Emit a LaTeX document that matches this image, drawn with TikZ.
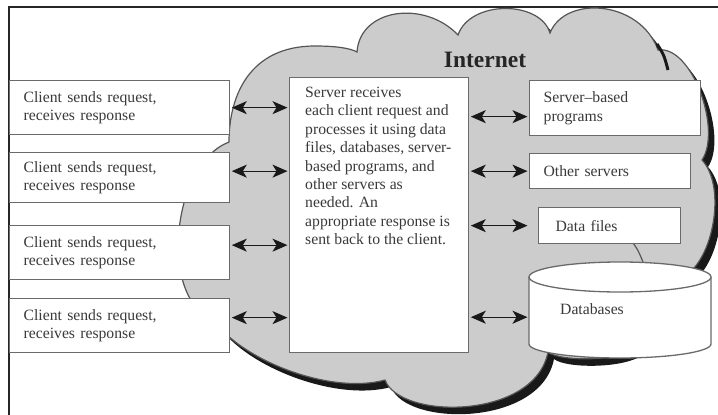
\documentclass[tikz,border=0pt]{standalone}
\usepackage{fontspec}
\setmainfont{Liberation Serif}
\usetikzlibrary{arrows.meta}
\definecolor{cloudgray}{HTML}{CCCCCC}
\definecolor{outlinegray}{HTML}{555555}
\definecolor{boxgray}{HTML}{6A6A6A}
\definecolor{textgray}{HTML}{3A3A3A}
\def\cloudoutline{(229,142) .. controls (229,95) and (250,46) .. (315,46)
  .. controls (335,46) and (350,48) .. (357,52)
  .. controls (360,8) and (425,0) .. (458,35)
  .. controls (470,0) and (540,0) .. (550,33)
  .. controls (565,-5) and (640,0) .. (658,50)
  .. controls (692,45) and (722,130) .. (702,160)
  .. controls (725,185) and (715,250) .. (690,272)
  -- (640,345)
  .. controls (625,362) and (560,362) .. (548,352)
  .. controls (535,420) and (400,420) .. (385,380)
  .. controls (330,395) and (240,360) .. (212,318)
  .. controls (160,300) and (170,165) .. (229,142) -- cycle}
\begin{document}
\begin{tikzpicture}[x=1pt,y=-1pt,
  box/.style={draw=boxgray, line width=1.3pt, fill=white, inner sep=0pt, anchor=north west},
  txt/.style={font=\fontsize{15.7}{18.4}\selectfont, text=textgray, align=left},
  clientbox/.style={box, txt, minimum width=220pt, minimum height=54pt, text width=192pt, inner xsep=14pt},
  link/.style={{Stealth[length=15pt,width=13pt,inset=4pt]}-{Stealth[length=15pt,width=13pt,inset=4pt]}, line width=1.1pt, black!90, shorten <=1.5pt, shorten >=1.5pt}]
\useasboundingbox (0,0) rectangle (718,415);
\fill[white] (0,0) rectangle (718,415);
% frame
\draw[line width=1.6pt, black!85] (9,415) -- (9,7) -- (718,7);
% cloud
\fill[black!90] [shift={(6,7)}] \cloudoutline;
\path[fill=cloudgray, draw=outlinegray, line width=1.2pt] \cloudoutline;
\draw[outlinegray, line width=1.2pt] (633,243) .. controls (638,250) .. (643,262);
\draw[black!90, line width=3pt] (657,44) .. controls (664,55) .. (668,70);
% title
\node[font=\fontsize{23.5}{28}\selectfont\bfseries, text=black!85] (inet) at (485,60) {Internet};
% clients
\node[clientbox] (c1) at (9,80) {Client sends request,\\receives response};
\node[clientbox, minimum height=50pt] (c2) at (9,152) {Client sends request,\\receives response};
\node[clientbox] (c3) at (9,225) {Client sends request,\\receives response};
\node[clientbox] (c4) at (9,298) {Client sends request,\\receives response};
% server
\node[box, minimum width=179pt, minimum height=275pt] (srv) at (289,77) {};
\node[txt, anchor=north west, inner sep=0pt] (srvt) at (305,87) {Server receives\\each client request and\\processes it using data\\files, databases, server-\\based programs, and\\other servers as\\needed. An\\appropriate response is\\sent back to the client.};
% right side
\node[box, txt, minimum width=171pt, minimum height=55pt, text width=143pt, inner xsep=14pt] (sbp) at (529,80) {Server--based\\programs};
\node[box, txt, minimum width=161pt, minimum height=35pt, text width=133pt, inner xsep=14pt] (os) at (529,153) {Other servers};
\node[box, txt, minimum width=142pt, minimum height=36pt, text width=108pt, inner xsep=17pt] (df) at (538,207) {Data files};
% database cylinder
\path[fill=white, draw=boxgray, line width=1.3pt] (529,277) -- (529,344) arc[start angle=180, end angle=360, x radius=91pt, y radius=14pt] -- (711,277);
\draw[fill=white, draw=boxgray, line width=1.3pt] (620,277) ellipse[x radius=91pt, y radius=15pt];
\node[minimum width=182pt, minimum height=96pt, inner sep=0pt, anchor=north west] (db) at (529,262) {};
\node[txt] (dbl) at (592,309) {Databases};
% connectors
\draw[link] (c1.east) -- (c1.east -| srv.west);
\draw[link] ([yshift=6.5pt]c2.east) -- ([yshift=6.5pt]c2.east -| srv.west);
\draw[link] ([yshift=7.5pt]c3.east) -- ([yshift=7.5pt]c3.east -| srv.west);
\draw[link] ([yshift=8pt]c4.east) -- ([yshift=8pt]c4.east -| srv.west);
\draw[link] ([yshift=-8.5pt]srv.east |- sbp.west) -- ([yshift=-8.5pt]sbp.west);
\draw[link] (srv.east |- os.west) -- (os.west);
\draw[link] (srv.east |- df.west) -- (df.west -| sbp.west);
\draw[link] ([yshift=-7pt]srv.east |- db.west) -- ([yshift=-7pt]db.west);
\end{tikzpicture}
\end{document}
